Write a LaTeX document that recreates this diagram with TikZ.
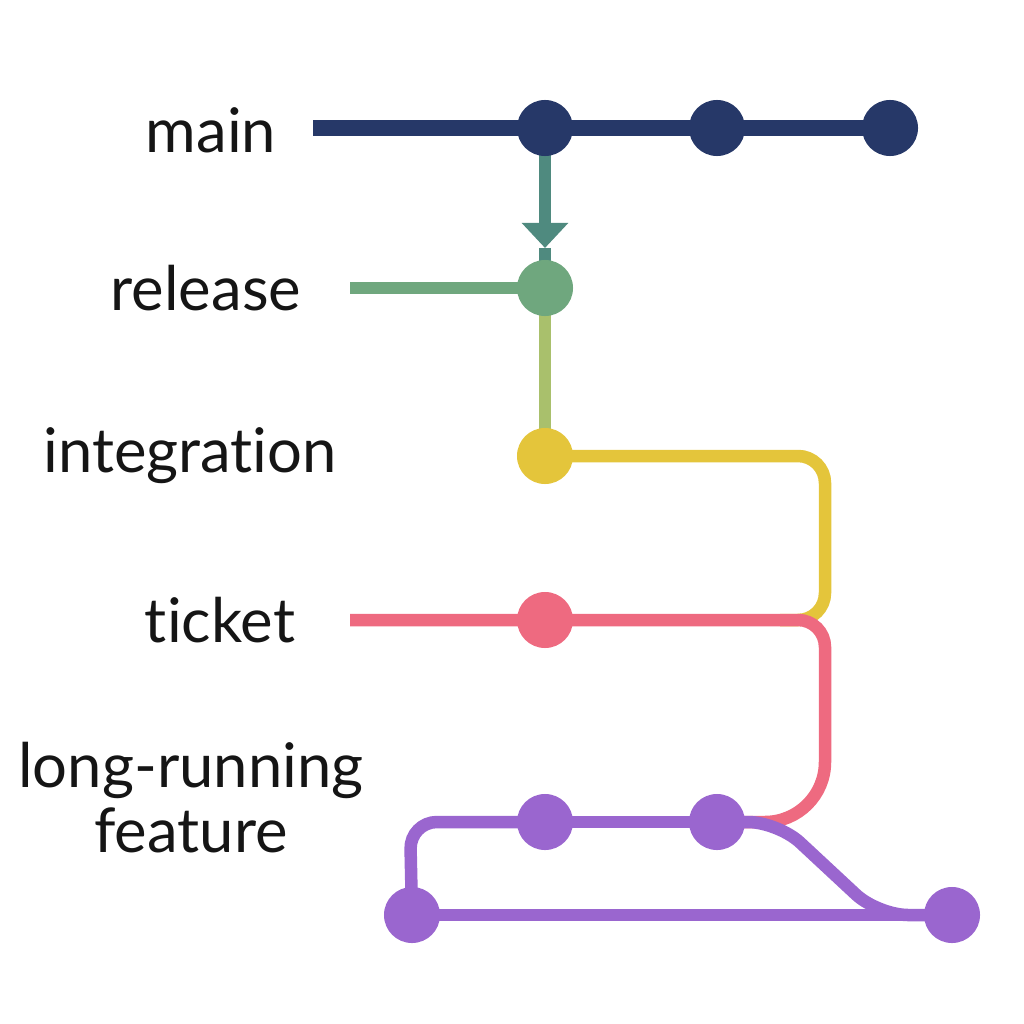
\documentclass[tikz,border=0pt]{standalone}
\usepackage{fontspec}
\setmainfont[Ligatures={NoCommon,NoRequired,NoContextual}]{Lato}
\usetikzlibrary{arrows.meta,backgrounds}
\definecolor{navy}{HTML}{263868}
\definecolor{tealc}{HTML}{4F8A7F}
\definecolor{relgreen}{HTML}{6FA77E}
\definecolor{lime}{HTML}{A9C06C}
\definecolor{mustard}{HTML}{E4C53B}
\definecolor{rose}{HTML}{EE6A80}
\definecolor{violet}{HTML}{9A66CF}
\definecolor{ink}{HTML}{151515}
\begin{document}
\begin{tikzpicture}[x=0.01cm,y=-0.01cm,font=\fontsize{17.5}{18.5}\selectfont,
  commit/.style={circle,minimum size=0.56cm,inner sep=0pt},
  branch/.style={line width=0.125cm},
  lbl/.style={text=ink,inner sep=0pt,align=center}]
\useasboundingbox (0,0) rectangle (1024,1024);
% commits
\node[commit,fill=navy] (m1) at (545,128) {};
\node[commit,fill=navy] (m2) at (717,128) {};
\node[commit,fill=navy] (m3) at (890,128) {};
\node[commit,fill=relgreen] (r1) at (545,288) {};
\node[commit,fill=mustard] (i1) at (545,456) {};
\node[commit,fill=rose] (t1) at (545,620) {};
\node[commit,fill=violet] (f1) at (545,822) {};
\node[commit,fill=violet] (f2) at (717,822) {};
\node[commit,fill=violet] (f0) at (412,915) {};
\node[commit,fill=violet] (f3) at (952,915) {};
\coordinate (mstart) at (313,128);
\coordinate (rstart) at (350,288);
\coordinate (tstart) at (350,620);
\coordinate (tip) at (545,248);
% labels
\node[lbl] (lmain) at (211,130) {main};
\node[lbl] (lrel) at (206,288) {release};
\node[lbl] (lint) at (190,456) {integration};
\node[lbl] (ltic) at (220,620) {ticket};
\node[lbl] (lfeat) at (191,798) {long-running\\feature};
% branches
\begin{pgfonlayer}{background}
\draw[branch,navy,line width=0.16cm] (mstart)--(m1.center)--(m2.center)--(m3.center);
\draw[line width=0.12cm,tealc,-{Triangle[width=0.45cm,length=0.25cm]}] (m1.center)--(tip);
\draw[line width=0.12cm,tealc] (tip)--(r1.center);
\draw[branch,relgreen] (rstart)--(r1.center);
\draw[branch,lime] (r1.center)--(i1.center);
\draw[branch,mustard,rounded corners=0.27cm] (i1.center)--(825,456)--(825,620)--(780,620);
\draw[branch,rose] (tstart)--(t1.center)[rounded corners=0.27cm]--(825,620)[rounded corners=0.6cm]--(825,822)--(740,822);
\draw[branch,violet] (f1.center)--(f2.center);
\draw[branch,violet,rounded corners=0.3cm] (f2.center)--(778,822)--(878,915)--(f3.center);
\draw[branch,violet,rounded corners=0.27cm] (f1.center)--(410,822)--(f0.center);
\draw[branch,violet] (f0.center)--(f3.center);
\end{pgfonlayer}
\end{tikzpicture}
\end{document}
